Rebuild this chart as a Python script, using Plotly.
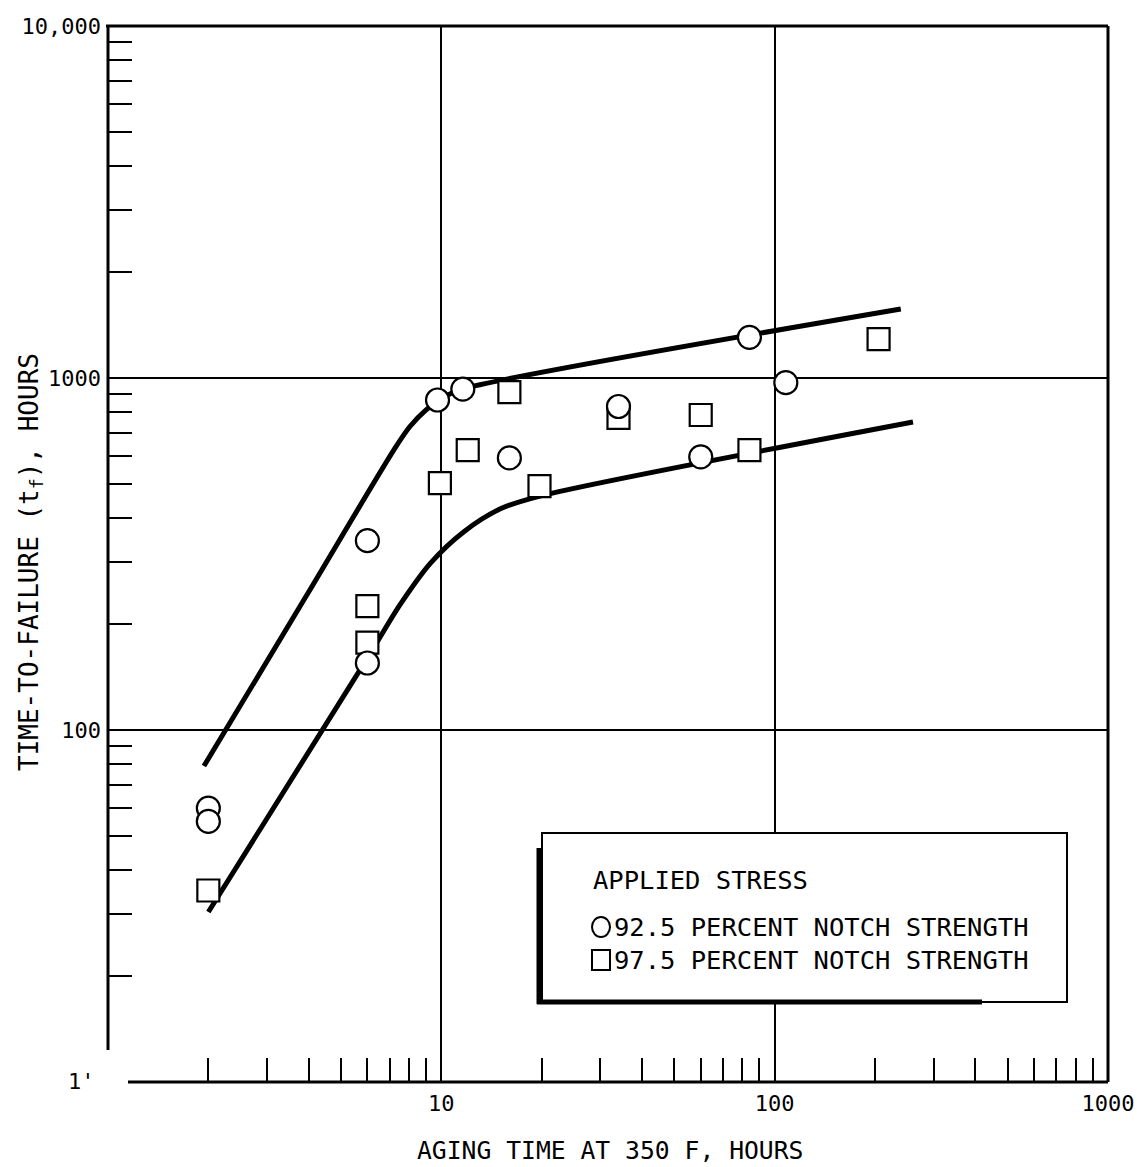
import plotly.graph_objects as go

# ---------------- data ----------------
circle_x = [2, 2, 6, 6, 9.74, 11.6, 16, 34, 60, 84, 108]
circle_y = [60, 55, 345, 155, 866, 930, 593, 830, 597, 1305, 970]

square_x = [2, 6, 6, 9.9, 12, 16, 19.7, 34, 60, 84, 205]
square_y = [35, 225, 177, 503, 624, 912, 493, 770, 785, 624, 1290]

upper_x = [1.94, 3.92, 7.26, 8.05, 9.02, 10.18, 11.6, 239]
upper_y = [79, 239, 632, 728, 813, 883, 931, 1570]

lower_x = [2.0, 6.0, 7.52, 9.28, 11.69, 15.04, 19.77, 260]
lower_y = [30.4, 160, 227, 298, 366, 425, 462, 750]

x_label_vals = [10, 100, 1000]
x_label_text = ["10", "100", "1000"]
y_label_vals = [100, 1000, 10000]
y_label_text = ["100", "1000", "10,000"]
y_bottom_label = "1'"

legend_title = "APPLIED STRESS"
legend_circle = "92.5 PERCENT NOTCH STRENGTH"
legend_square = "97.5 PERCENT NOTCH STRENGTH"
x_title = "AGING TIME AT 350 F, HOURS"
y_title = "TIME-TO-FAILURE (t<sub>f</sub>), HOURS"

# ---------------- figure ----------------
FONT = "DejaVu Sans Mono"
W, H = 1137, 1167
L, R, T, B = 108, 1108, 26, 1082  # plot area in pixels


def px2x(px):
    return (px - L) / (R - L)


def py2y(py):
    return (B - py) / (B - T)


# small tick marks at mantissas 2..9 of each decade
x_minor = [m * 10 ** e for e in range(0, 3) for m in range(2, 10)]
y_minor = [m * 10 ** e for e in range(1, 4) for m in range(2, 10)]

fig = go.Figure()

line_style = dict(color="black", width=5, shape="spline", smoothing=0.8)
fig.add_trace(go.Scatter(x=upper_x, y=upper_y, mode="lines", line=line_style,
                         showlegend=False, hoverinfo="skip"))
fig.add_trace(go.Scatter(x=lower_x, y=lower_y, mode="lines", line=line_style,
                         showlegend=False, hoverinfo="skip"))

fig.add_trace(go.Scatter(
    x=square_x, y=square_y, mode="markers", name=legend_square,
    marker=dict(symbol="square", size=22, color="white",
                line=dict(color="black", width=2.2)),
    showlegend=False))
fig.add_trace(go.Scatter(
    x=circle_x, y=circle_y, mode="markers", name=legend_circle,
    marker=dict(symbol="circle", size=23, color="white",
                line=dict(color="black", width=2.2)),
    showlegend=False))

axis_common = dict(
    type="log", showline=False, zeroline=False, automargin=False,
    showgrid=True, gridcolor="black", gridwidth=1.6,
    ticks="inside", ticklen=24, tickwidth=2.2, tickcolor="black",
    tickfont=dict(family=FONT, size=22, color="black"),
    ticklabelstandoff=6, tickmode="array",
)

fig.update_xaxes(
    **axis_common, range=[0, 3],
    tickvals=x_label_vals, ticktext=x_label_text,
    minor=dict(tickmode="array", tickvals=x_minor, showgrid=False,
               ticks="inside", ticklen=24, tickwidth=2.2, tickcolor="black"),
)
fig.update_yaxes(
    **axis_common, range=[1, 4],
    tickvals=y_label_vals, ticktext=y_label_text,
    minor=dict(tickmode="array", tickvals=y_minor, showgrid=False,
               ticks="inside", ticklen=24, tickwidth=2.2, tickcolor="black"),
)

shapes = []
frame = dict(type="line", xref="paper", yref="paper", line=dict(color="black", width=3))
# frame (left and bottom lines leave a small gap at the corner, as in the scan)
shapes.append(dict(frame, x0=0, x1=0, y0=py2y(1050), y1=1))
shapes.append(dict(frame, x0=-0.002, x1=1, y0=1, y1=1))
shapes.append(dict(frame, x0=1, x1=1, y0=0, y1=1))
shapes.append(dict(frame, x0=px2x(128), x1=1, y0=0, y1=0))

# legend box
box_l, box_r, box_t, box_b = 542, 1067, 833, 1002
thick = dict(type="line", xref="paper", yref="paper", line=dict(color="black", width=5))
shapes.append(dict(type="rect", xref="paper", yref="paper",
                   x0=px2x(box_l), x1=px2x(box_r), y0=py2y(box_b), y1=py2y(box_t),
                   fillcolor="white", line=dict(color="black", width=2), layer="above"))
shapes.append(dict(thick, x0=px2x(539), x1=px2x(539), y0=py2y(1004), y1=py2y(848)))
shapes.append(dict(thick, x0=px2x(537), x1=px2x(982), y0=py2y(1002), y1=py2y(1002)))

# legend symbols
cx, r1, r2 = 601, 927, 960
shapes.append(dict(type="circle", xref="paper", yref="paper",
                   x0=px2x(cx - 9), x1=px2x(cx + 9), y0=py2y(r1 + 10), y1=py2y(r1 - 10),
                   line=dict(color="black", width=2), fillcolor="white"))
shapes.append(dict(type="rect", xref="paper", yref="paper",
                   x0=px2x(cx - 9), x1=px2x(cx + 9), y0=py2y(r2 + 10), y1=py2y(r2 - 10),
                   line=dict(color="black", width=2), fillcolor="white"))

fig.update_layout(shapes=shapes)

txt = dict(family=FONT, size=25.5, color="black")
annotations = [
    dict(text=legend_title, x=px2x(591), y=py2y(880), xanchor="left", yanchor="middle",
         xref="paper", yref="paper", showarrow=False, font=txt),
    dict(text=legend_circle, x=px2x(612), y=py2y(r1), xanchor="left", yanchor="middle",
         xref="paper", yref="paper", showarrow=False, font=txt),
    dict(text=legend_square, x=px2x(612), y=py2y(r2), xanchor="left", yanchor="middle",
         xref="paper", yref="paper", showarrow=False, font=txt),
    dict(text=x_title, x=px2x(610), y=py2y(1150), xanchor="center", yanchor="middle",
         xref="paper", yref="paper", showarrow=False,
         font=dict(family=FONT, size=24.7, color="black")),
    dict(text=y_title, x=px2x(30), y=py2y(562), xanchor="center", yanchor="middle",
         textangle=-90, xref="paper", yref="paper", showarrow=False,
         font=dict(family=FONT, size=26, color="black")),
    dict(text=y_bottom_label, x=px2x(97), y=py2y(1081), xanchor="right", yanchor="middle",
         xref="paper", yref="paper", showarrow=False,
         font=dict(family=FONT, size=22, color="black")),
]

fig.update_layout(
    width=W, height=H,
    margin=dict(l=L, r=W - R, t=T, b=H - B, pad=0, autoexpand=False),
    paper_bgcolor="white", plot_bgcolor="white",
    annotations=annotations,
    showlegend=False,
)

fig.write_html(
    "out.html",
    config={"responsive": False, "displayModeBar": False},
    post_script="document.body.style.margin='0';document.body.style.overflow='hidden';",
)
